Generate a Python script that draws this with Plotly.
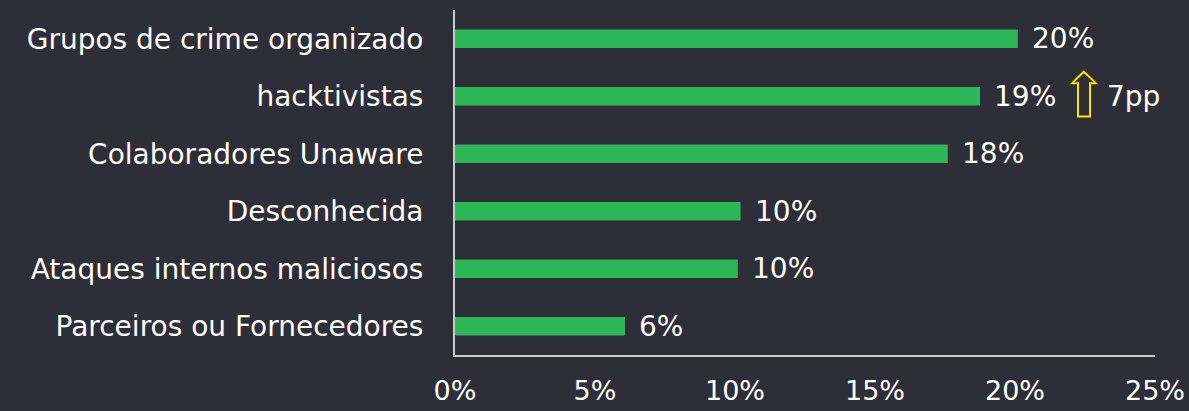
import plotly.graph_objects as go

categories = ["Grupos de crime organizado", "hacktivistas", "Colaboradores Unaware",
              "Desconhecida", "Ataques internos maliciosos", "Parceiros ou Fornecedores"]
values = [20.1, 18.75, 17.6, 10.2, 10.1, 6.07]
labels = ["20%", "19%", "18%", "10%", "10%", "6%"]
tick_vals = [0, 5, 10, 15, 20, 25]
tick_text = ["0%", "5%", "10%", "15%", "20%", "25%"]
change_text = "7pp"

BG = "#2E2E38"
GREEN = "#2DB757"
YELLOW = "#FFE600"
FONT = "DejaVu Sans"
FS = 28
W = 400

fig = go.Figure()
fig.add_trace(go.Bar(
    y=categories, x=values, orientation="h",
    marker=dict(color=GREEN, line=dict(width=0)),
    width=0.32, text=labels, textposition="none",
    hoverinfo="skip",
))

for c, v, t in zip(categories, values, labels):
    fig.add_annotation(x=v, y=c, xref="x", yref="y", text=t, showarrow=False,
                       xanchor="left", xshift=12,
                       font=dict(family=FONT, size=FS, color="#FFFFFF", weight=W))

# Increase indicator (outlined up arrow) next to "hacktivistas"
fig.add_shape(type="path", xref="x", yref="paper",
              path="M 22.46 0.821 L 22.89 0.788 L 22.68 0.788 L 22.68 0.691 "
                   "L 22.25 0.691 L 22.25 0.788 L 22.04 0.788 Z",
              line=dict(color=YELLOW, width=2), fillcolor="rgba(0,0,0,0)")
fig.add_annotation(x=23.2, y=categories[1], xref="x", yref="y", text=change_text,
                   showarrow=False, xanchor="left",
                   font=dict(family=FONT, size=FS, color="#FFFFFF", weight=W))

fig.update_layout(
    width=1189, height=411,
    paper_bgcolor=BG, plot_bgcolor=BG,
    margin=dict(l=455, r=34, t=10, b=56),
    showlegend=False,
    font=dict(family=FONT, size=FS, color="#FFFFFF", weight=W),
    xaxis=dict(range=[0, 25], tickvals=tick_vals, ticktext=tick_text,
               showgrid=False, zeroline=False, showline=True,
               linecolor="#C9C9D0", linewidth=2, ticks="",
               ticklabelstandoff=11, fixedrange=True, automargin=False,
               tickfont=dict(family=FONT, size=FS - 1, color="#FFFFFF", weight=W)),
    yaxis=dict(autorange="reversed", showgrid=False, zeroline=False,
               showline=True, linecolor="#C9C9D0", linewidth=2, ticks="",
               ticklabelstandoff=24, automargin=False,
               tickfont=dict(family=FONT, size=FS, color="#FFFFFF", weight=W)),
)

fig.write_html("out.html")
